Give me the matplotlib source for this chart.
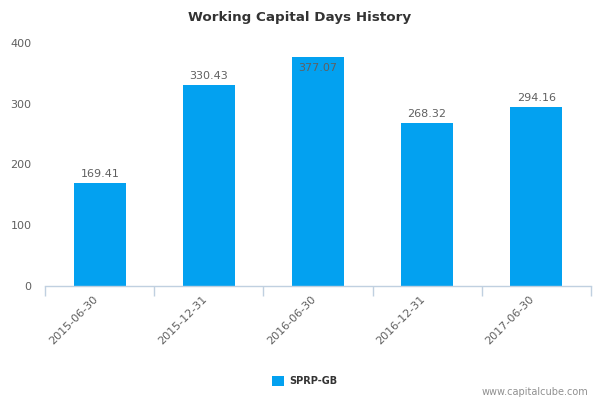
import matplotlib
matplotlib.use("Agg")
import matplotlib.pyplot as plt
import numpy as np

# data
dates = ["2015-06-30", "2015-12-31", "2016-06-30", "2016-12-31", "2017-06-30"]
days = [169.41, 330.43, 377.07, 268.32, 294.16]
series_name = "SPRP-GB"
y_ticks = [0, 100, 200, 300, 400]

bar_color = "#03A1F0"
axis_color = "#C0D0E0"
text_color = "#606060"

plt.rcParams["font.family"] = ["DejaVu Sans"]

fig = plt.figure(figsize=(6, 4), dpi=100)
ax = fig.add_axes([0.0755, 0.285, 0.909, 0.6075])

x = np.arange(len(dates))
bars = ax.bar(x, days, width=0.48, color=bar_color, label=series_name, zorder=2)

ax.set_xlim(-0.5, len(dates) - 0.5)
ax.set_ylim(0, y_ticks[-1])

# value labels; the one that would overflow the top goes inside the bar
for xi, val in zip(x, days):
    if val > y_ticks[-1] * 0.93:
        ax.annotate(f"{val:.2f}", (xi, val), xytext=(0, -8), textcoords="offset points",
                    ha="center", va="center", fontsize=8, color=text_color)
    else:
        ax.annotate(f"{val:.2f}", (xi, val), xytext=(0, 6.5), textcoords="offset points",
                    ha="center", va="center", fontsize=8, color=text_color)

# y axis: labels only, no line, no grid
ax.set_yticks(y_ticks)
ax.set_yticklabels([str(v) for v in y_ticks])
ax.tick_params(axis="y", length=0, pad=10, labelsize=8, labelcolor=text_color)

# x axis: tick marks on category boundaries, labels at category centres
ax.set_xticks(np.arange(len(dates) + 1) - 0.5)
ax.set_xticklabels([])
ax.tick_params(axis="x", which="major", length=7, width=1, color=axis_color, direction="out")
ax.set_xticks(x, minor=True)
ax.set_xticklabels(dates, minor=True, rotation=45, ha="right", va="top")
ax.tick_params(axis="x", which="minor", length=0, pad=6, labelsize=8, labelcolor=text_color)

for side in ["top", "right", "left"]:
    ax.spines[side].set_visible(False)
ax.spines["bottom"].set_color(axis_color)
ax.spines["bottom"].set_linewidth(1)

fig.text(0.5, 0.957, "Working Capital Days History", ha="center", va="center",
         fontsize=9.7, fontweight="bold", color="#333333")

leg = ax.legend(loc="center", bbox_to_anchor=(0.508, 0.048), bbox_transform=fig.transFigure,
                frameon=False, handlelength=1.2, handleheight=1.2, handletextpad=0.5,
                prop={"size": 7, "weight": "bold"})
for t in leg.get_texts():
    t.set_color("#333333")

fig.text(0.98, 0.02, "www.capitalcube.com", ha="right", va="center", fontsize=7, color="#909090")

fig.savefig("out.png", dpi=100)
